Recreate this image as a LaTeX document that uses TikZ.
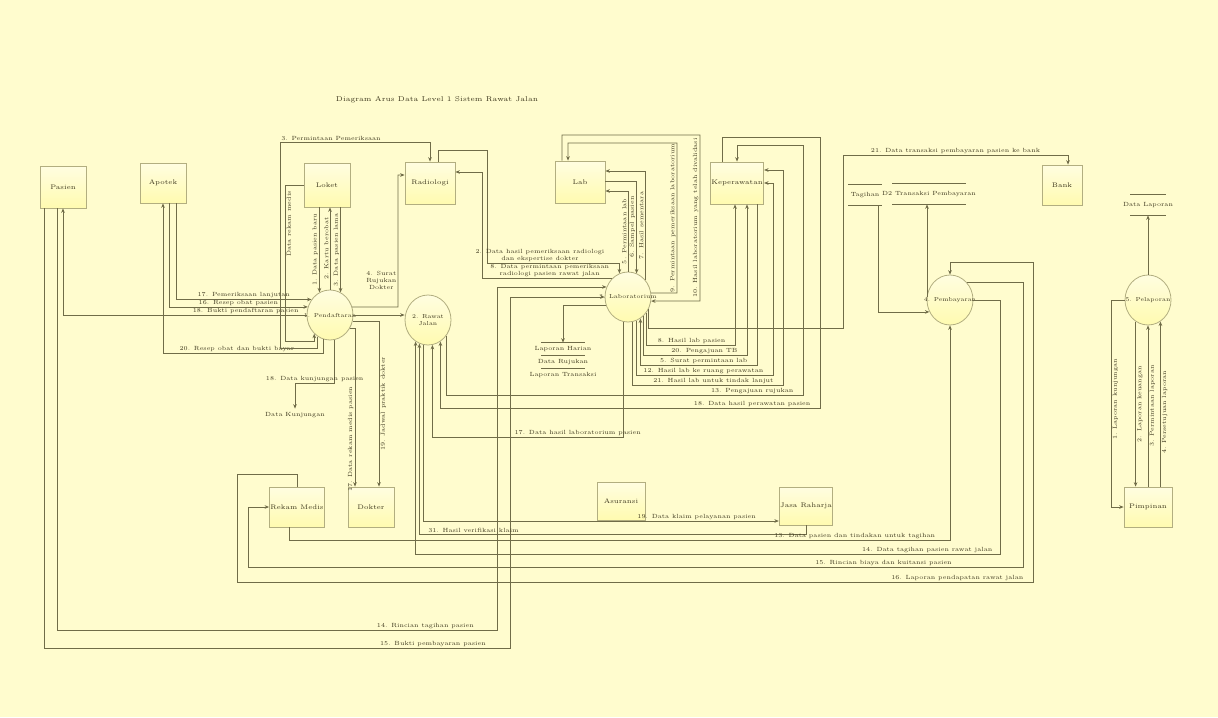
\documentclass[tikz,border=0pt]{standalone}
\usetikzlibrary{shapes.geometric,arrows.meta,calc}
\definecolor{bgcol}{RGB}{255,252,206}
\definecolor{boxtop}{RGB}{255,253,224}
\definecolor{boxbot}{RGB}{255,251,176}
\definecolor{boxline}{RGB}{178,174,128}
\definecolor{lncol}{RGB}{112,108,72}
\definecolor{txtcol}{RGB}{62,56,30}
\newcommand\lblfont{\fontsize{3}{3.5}\selectfont}
\newcommand\entfont{\fontsize{3.3}{3.8}\selectfont}
\newcommand\procfont{\fontsize{2.9}{3.4}\selectfont}

\begin{document}
\begin{tikzpicture}[x=0.5pt, y=-0.5pt, every node/.style={text=txtcol},
  ent/.style={draw=boxline, top color=boxtop, bottom color=boxbot, line width=0.4pt, minimum width=23pt, minimum height=21pt, inner sep=0.5pt, font=\entfont, align=center},
  proc/.style={ellipse, draw=boxline, top color=boxtop, bottom color=boxbot, line width=0.4pt, minimum width=23pt, minimum height=25pt, inner sep=0pt, label={[font=\procfont, align=center, text=txtcol]center:#1}},
  store/.style={font=\lblfont, inner sep=0.5pt, minimum height=6pt},
  flow/.style={draw=lncol, line width=0.4pt, -{Stealth[length=2.2pt, width=1.8pt]}},
  lbl/.style={font=\lblfont, inner sep=0.6pt, align=center},
  vlbl/.style={lbl, rotate=90}]
\useasboundingbox (0,0) rectangle (1218,717);
\fill[bgcol] (0,0) rectangle (1218,717);

\node[font=\fontsize{3.5}{4}\selectfont] (title) at (437,100) {Diagram Arus Data Level 1 Sistem Rawat Jalan};

\node[ent] (pasien) at (63,187) {Pasien};
\node[ent, minimum height=20pt] (apotek) at (163,183) {Apotek};
\node[ent, minimum height=22pt] (loket) at (327,185) {Loket};
\node[ent, minimum width=25pt] (radiologi) at (430,183) {Radiologi};
\node[ent, minimum width=25pt] (lab) at (580,182) {Lab};
\node[ent, minimum width=25pt] (perawat) at (737,183) {Keperawatan};
\node[ent, minimum width=20pt, minimum height=20pt] (bank) at (1062,185) {Bank};
\node[ent, minimum width=24pt, minimum height=20pt] (pimpinan) at (1148,507) {Pimpinan};
\node[ent, minimum height=20pt] (rekam) at (297,507) {Rekam Medis};
\node[ent, minimum height=20pt] (dokter) at (371,507) {Dokter};
\node[ent, minimum width=24pt, minimum height=19pt] (asuransi) at (621,501) {Asuransi};
\node[ent, minimum width=24pt, minimum height=19pt] (bpjs) at (806,506) {Jasa Raharja};

\node[proc={1. Pendaftaran}] (p1) at (330,315) {};
\node[proc={2. Rawat\\Jalan}] (p2) at (428,320) {};
\node[proc={3. Laboratorium}] (p3) at (628,297) {};
\node[proc={4. Pembayaran}] (p4) at (950,300) {};
\node[proc={5. Pelaporan}] (p5) at (1148,300) {};

\node[store, minimum width=22pt] (dsa) at (563,349) {Laporan Harian};
\node[store] (dsb) at (563,362) {Data Rujukan};
\node[store] (dsc) at (563,375) {Laporan Transaksi};
\foreach \s in {dsa.north,dsa.south,dsb.south}
  \draw[lncol, line width=0.3pt] ($(\s)+(-22,0)$) -- ($(\s)+(22,0)$);
\node[store, minimum height=10pt] (tagihan) at (865,195) {Tagihan};
\node[store, minimum height=10pt] (dtrans) at (929,194) {D2 Transaksi Pembayaran};
\node[store, minimum height=10pt] (dslap) at (1148,205) {Data Laporan};
\node[store] (dskunj) at (295,415) {Data Kunjungan};
\foreach \s/\w in {tagihan/17,dtrans/37,dslap/18} {
  \draw[lncol, line width=0.3pt] ($(\s.north)+(-\w,0)$) -- ($(\s.north)+(\w,0)$);
  \draw[lncol, line width=0.3pt] ($(\s.south)+(-\w,0)$) -- ($(\s.south)+(\w,0)$);
}

\draw[flow] (p1.west) -- node[lbl,above,pos=0.25]{18. Bukti pendaftaran pasien} (63,315) -- (pasien.south);
\draw[flow] ($(apotek.south)+(6,0)$) |- node[lbl,above,pos=0.75]{16. Resep obat pasien} (p1.160);
\draw[flow] ($(apotek.south)+(13,0)$) |- node[lbl,above,pos=0.75]{17. Pemeriksaan lanjutan} (p1.140);
\draw[flow] (p1.-105) |- node[lbl,above,pos=0.77]{20. Resep obat dan bukti bayar} (163,353) -- (apotek.south);
\draw[flow] (loket.west) -- (285,185) -- node[vlbl,below,pos=0.25]{Data rekam medis} (285,341) -| (p1.-130);
\draw[flow] (loket.south -| p1.115) -- node[vlbl,above]{1. Data pasien baru} (p1.115);
\draw[flow] (p1.north) -- node[vlbl,above]{2. Kartu berobat} (p1.north |- loket.south);
\draw[flow] (loket.south -| p1.65) -- node[vlbl,above]{3. Data pasien lama} (p1.65);
\draw[flow] (p1.20) -- (398,307) |- node[lbl,left,pos=0.1]{4. Surat\\Rujukan\\Dokter} ($(radiologi.west)+(0,-8)$);
\draw[flow] (p1.-120) |- (280,348) -- (280,142) -| node[lbl,above,pos=0.17]{3. Permintaan Pemeriksaan} (radiologi.north);
\draw[flow] (p1.east) -- (p1.east -| p2.west);
\draw[flow] (p1.-80) |- node[lbl,above,pos=0.75]{18. Data kunjungan pasien} (295,383) -- (dskunj.north);
\draw[flow] (p1.-35) -| node[vlbl,above,pos=0.85]{17. Data rekam medis pasien} ($(dokter.north)+(-16,0)$);
\draw[flow] (p1.-15) -| node[vlbl,below,pos=0.75]{19. Jadwal praktik dokter} ($(dokter.north)+(8,0)$);

\draw[flow] ($(radiologi.north)+(8,0)$) |- (487,150) -- (487,263) -| node[lbl,above,pos=0.2]{2. Data hasil pemeriksaan radiologi\\dan ekspertise dokter} (p3.110);
\draw[flow] (p3.130) -| node[lbl,above,pos=0.24]{8. Data permintaan pemeriksaan\\radiologi pasien rawat jalan} (482,172) -- ($(radiologi.east)+(0,-11)$);

\draw[flow] ($(pasien.south)+(-6,0)$) |- node[lbl,anchor=south east,pos=0.98,xshift=-2pt]{14. Rincian tagihan pasien} (497,630) |- (p3.155);
\draw[flow] ($(pasien.south west)+(5,0)$) |- node[lbl,anchor=south east,pos=0.98,xshift=-2pt]{15. Bukti pembayaran pasien} (510,648) |- (p3.west);
\draw[flow] (p3.-160) -| (dsa.north);

\draw[flow] (p3.10) -- (677,293) -- node[vlbl,above,pos=0.5]{9. Permintaan pemeriksaan laboratorium} (677,143) -| ($(lab.north)+(-12,0)$);
\draw[flow] ($(lab.north)+(-18,0)$) |- (700,135) -- node[vlbl,above,pos=0.5]{10. Hasil laboratorium yang telah divalidasi} (700,301) -- (p3.-10);
\draw[flow] (p3.north) |- node[vlbl,above,pos=0.25]{5. Permintaan lab} ($(lab.east)+(0,9)$);
\draw[flow] ($(lab.east)+(0,-1)$) -| node[vlbl,above,pos=0.75]{6. Sampel pasien} (p3.70);
\draw[flow] (p3.45) |- node[vlbl,above,pos=0.25]{7. Hasil sementara} ($(lab.east)+(0,-11)$);

\draw[flow] (p3.-40) |- node[lbl,anchor=south east,pos=1,xshift=-4pt]{8. Hasil lab pasien} (735,345) -- ($(perawat.south)+(-2,0)$);
\draw[flow] (p3.-50) |- node[lbl,anchor=south east,pos=1,xshift=-4pt]{20. Pengajuan TB} (747,355) -- ($(perawat.south)+(10,0)$);
\draw[flow] ($(perawat.south)+(20,0)$) -- (757,365) -| node[lbl,anchor=south east,pos=0,xshift=-4pt]{5. Surat permintaan lab} (p3.-60);
\draw[flow] (p3.-70) |- node[lbl,anchor=south east,pos=1,xshift=-4pt]{12. Hasil lab ke ruang perawatan} (773,375) |- (perawat.east);
\draw[flow] (p3.-80) |- node[lbl,anchor=south east,pos=1,xshift=-4pt]{21. Hasil lab untuk tindak lanjut} (783,385) |- ($(perawat.east)+(0,-13)$);
\draw[flow] (p3.-30) |- (843,328) -- (843,155) -| node[lbl,above,pos=0.25]{21. Data transaksi pembayaran pasien ke bank} ($(bank.north)+(6,0)$);

\draw[flow] (p2.-40) |- node[lbl,anchor=south east,pos=1,xshift=-4pt]{13. Pengajuan rujukan} (803,395) -- (803,145) -| (perawat.north);
\draw[flow] ($(perawat.north)+(-15,0)$) |- (820,137) -- (820,408) -| node[lbl,anchor=south east,pos=0,xshift=-4pt]{18. Data hasil perawatan pasien} (p2.-60);
\draw[flow] (p3.-100) -- (p3.-100 |- 0,437) -| node[lbl,above,pos=0.12]{17. Data hasil laboratorium pasien} (p2.-80);
\draw[flow] (p2.-100) |- node[lbl,anchor=south east,pos=0.97]{19. Data klaim pelayanan pasien} ($(bpjs.west)+(0,15)$);
\draw[flow] (bpjs.south) -- (806,534) -| node[lbl,above,pos=0.43]{31. Hasil verifikasi klaim} (p2.-110);

\draw[flow] (rekam.north) |- (237,474) -- (237,582) -- node[lbl,anchor=south east,pos=0.99]{16. Laporan pendapatan rawat jalan} (1033,582) -- (1033,262) -| (p4.north);
\draw[flow] (p4.45) -| (1023,567) -- node[lbl,anchor=south east,pos=0.09]{15. Rincian biaya dan kuitansi pasien} (248,567) |- (rekam.west);
\draw[flow] (p4.east) -| (1000,554) -| node[lbl,anchor=south east,pos=0,xshift=-3pt]{14. Data tagihan pasien rawat jalan} (p2.-120);
\draw[flow] ($(rekam.south)+(-8,0)$) |- node[lbl,anchor=south east,pos=0.99]{13. Data pasien dan tindakan untuk tagihan} (950,540) -- (p4.south);
\draw[flow] ($(tagihan.south)+(13,0)$) |- (p4.-150);
\draw[flow] (p4.170) -| ($(dtrans.south)+(-2,0)$);

\draw[flow] (p5.north) -- (dslap.south);
\draw[flow] (p5.west) -- (1111,300) |- node[vlbl,below,pos=0.24]{1. Laporan kunjungan} (pimpinan.west);
\draw[flow] (p5.-120) -- node[vlbl,below,pos=0.5]{2. Laporan keuangan} (p5.-120 |- pimpinan.north);
\draw[flow] (pimpinan.north) -- node[vlbl,below,pos=0.5]{3. Permintaan laporan} (p5.south);
\draw[flow] (p5.-60 |- pimpinan.north) -- node[vlbl,below,pos=0.45]{4. Persetujuan laporan} (p5.-60);
\end{tikzpicture}
\end{document}
